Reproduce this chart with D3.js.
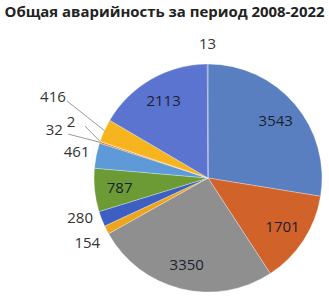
<!DOCTYPE html>
<html>
<head>
<meta charset="utf-8">
<script src="https://cdn.jsdelivr.net/npm/d3@7"></script>
<style>
  body { margin: 0; background: #fff; }
  svg { display: block; }
</style>
</head>
<body>
<svg id="chart" width="329" height="297"></svg>
<script>
// data (clockwise from 12 o'clock)
const values = [3543, 1701, 3350, 154, 280, 787, 461, 32, 2, 416, 2113, 13];
const colors = ['#5A7FC0', '#D0622A', '#8F8F8F', '#EBA51E', '#3D5FC2', '#6C9A34',
                '#5E9AD8', '#E07830', '#A8A8A8', '#F6B41E', '#5B74CF', '#4F6FB0'];
const insideLabel = [true, true, true, false, false, true, false, false, false, false, true, false];
const title = 'Общая аварийность за период 2008-2022';

// layout for the crowded outside labels: [angle in degrees, radius, leader line?]
const labelOverride = {
    3: [241.8, 137, false],
    4: [252.6, 134, false],
    7: [287.3, 161, true],
    8: [292.2, 148, true],
    9: [297.6, 175, true]
};

const width = 329, height = 297;
const cx = 208, cy = 178, r = 114;

const svg = d3.select('#chart');

svg.append('text')
    .attr('x', width / 2)
    .attr('y', 17)
    .attr('text-anchor', 'middle')
    .attr('font-family', 'Open Sans, DejaVu Sans, sans-serif')
    .attr('font-weight', 'bold')
    .attr('font-size', '15px')
    .attr('fill', '#222')
    .attr('textLength', 320)
    .attr('lengthAdjust', 'spacingAndGlyphs')
    .text(title);

const pie = d3.pie().sort(null).value(d => d);
const arcs = pie(values);
const arc = d3.arc().innerRadius(0).outerRadius(r);

const g = svg.append('g').attr('transform', `translate(${cx},${cy})`);

g.selectAll('path')
    .data(arcs)
    .enter()
    .append('path')
    .attr('d', arc)
    .attr('fill', (d, i) => colors[i])
    .attr('stroke', 'rgba(255,255,255,0.5)')
    .attr('stroke-width', 0.6);

// inside labels
const inArc = d3.arc().innerRadius(r * 0.78).outerRadius(r * 0.78);
g.selectAll('text.inside')
    .data(arcs.filter((d, i) => insideLabel[i]))
    .enter()
    .append('text')
    .attr('class', 'inside')
    .attr('transform', d => `translate(${inArc.centroid(d)})`)
    .attr('text-anchor', 'middle')
    .attr('dy', '0.35em')
    .attr('font-family', 'Open Sans, DejaVu Sans, sans-serif')
    .attr('font-size', '15px')
    .attr('fill', '#1b1f33')
    .text(d => d.data);

// outside labels
function polar(angleDeg, rad) {
    const a = angleDeg * Math.PI / 180;
    return [rad * Math.sin(a), -rad * Math.cos(a)];
}
const outside = arcs.map((d, i) => ({ d, i })).filter(o => !insideLabel[o.i]);
outside.forEach(o => {
    const mid = (o.d.startAngle + o.d.endAngle) / 2 * 180 / Math.PI;
    const ov = labelOverride[o.i];
    o.pos = ov ? polar(ov[0], ov[1]) : polar(mid, r + 20);
    o.edge = polar(mid, r);
    o.lead = ov ? ov[2] : false;
});

g.selectAll('line.leader')
    .data(outside.filter(o => o.lead))
    .enter()
    .append('line')
    .attr('class', 'leader')
    .attr('x1', o => o.pos[0] + 14)
    .attr('y1', o => o.pos[1] + 4)
    .attr('x2', o => o.edge[0])
    .attr('y2', o => o.edge[1])
    .attr('stroke', '#9a9a9a')
    .attr('stroke-width', 1);

g.selectAll('text.outside')
    .data(outside)
    .enter()
    .append('text')
    .attr('class', 'outside')
    .attr('x', o => o.pos[0])
    .attr('y', o => o.pos[1])
    .attr('text-anchor', 'middle')
    .attr('dy', '0.35em')
    .attr('font-family', 'Open Sans, DejaVu Sans, sans-serif')
    .attr('font-size', '15px')
    .attr('fill', '#333')
    .text(o => o.d.data);
</script>
</body>
</html>
